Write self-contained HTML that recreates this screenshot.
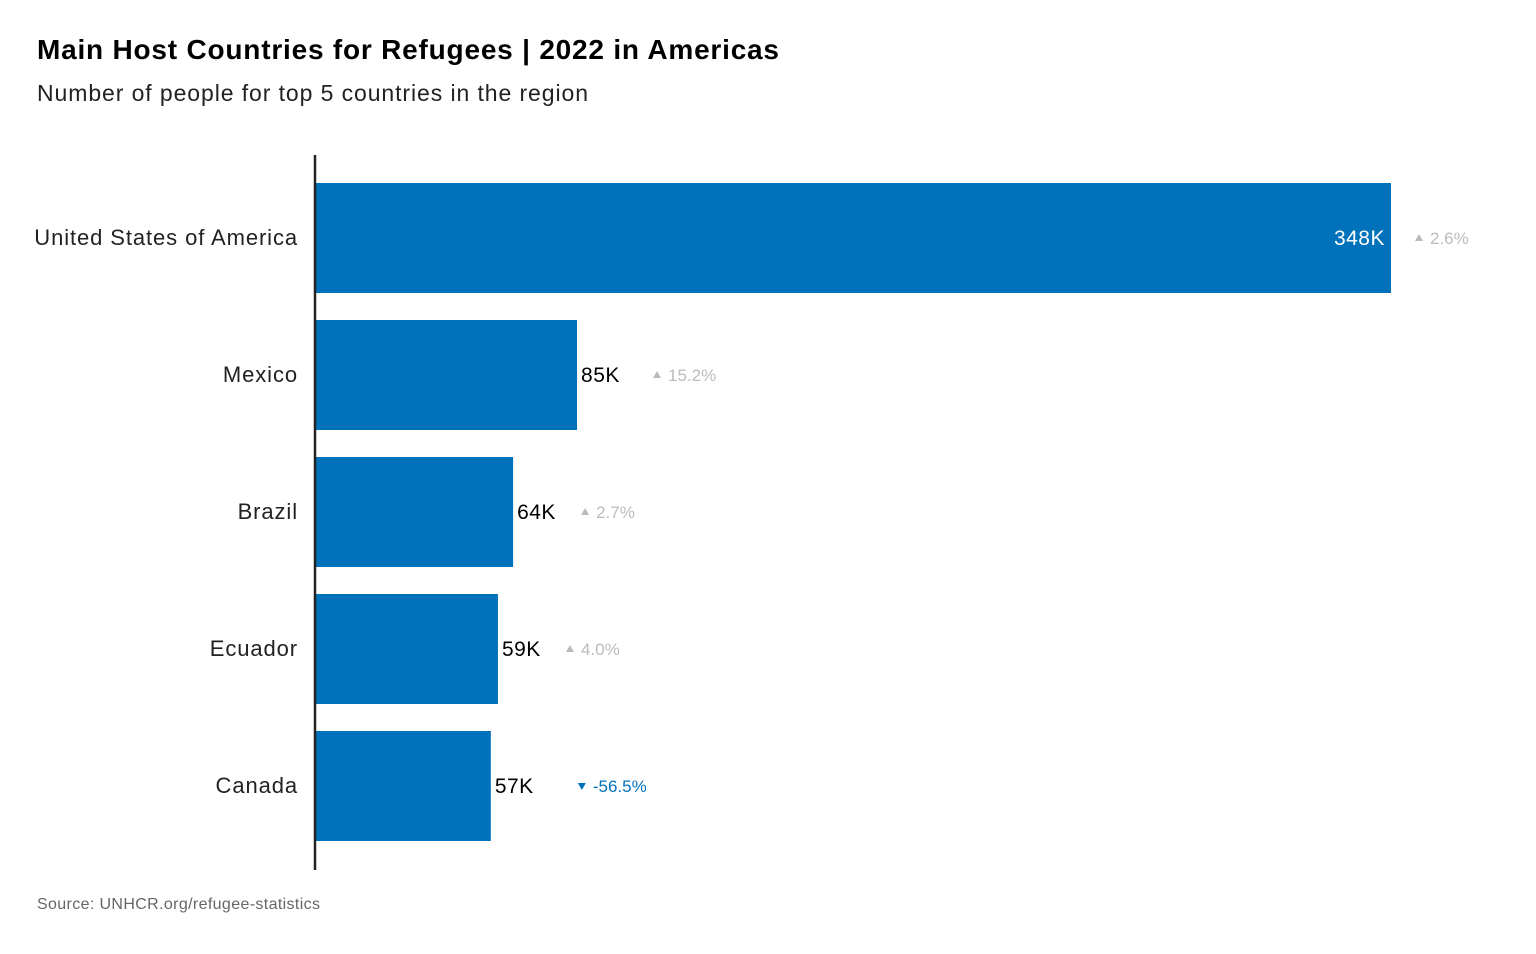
<!DOCTYPE html>
<html><head><meta charset="utf-8"><style>
body{margin:0;background:#fff;width:1536px;height:949px;overflow:hidden;font-family:"Liberation Sans",sans-serif}
svg text{font-family:"Liberation Sans",sans-serif}
</style></head><body>
<svg id="chart" width="1536" height="949" xmlns="http://www.w3.org/2000/svg">
<text x="37" y="59" font-size="28" font-weight="bold" fill="#000" textLength="742">Main Host Countries for Refugees | 2022 in Americas</text>
<text x="37" y="101" font-size="23" fill="#222" textLength="551">Number of people for top 5 countries in the region</text>
<text x="37" y="909" font-size="16" fill="#666" textLength="283">Source: UNHCR.org/refugee-statistics</text>
<g id="bars"></g>
<line x1="315" y1="155" x2="315" y2="870" stroke="#222" stroke-width="2.5"/>
</svg>
<script>
const countries=["United States of America","Mexico","Brazil","Ecuador","Canada"];
const values=[348,84.5,63.8,58.9,56.6];
const valueLabels=["348K","85K","64K","59K","57K"];
const changes=[2.6,15.2,2.7,4.0,-56.5];
const changeLabels=["2.6%","15.2%","2.7%","4.0%","-56.5%"];
const NS="http://www.w3.org/2000/svg";
const x0=316,maxV=348,maxW=1075;
const xs=v=>x0+v/maxV*maxW;
const yTop=i=>183+i*137;
const bh=110;
const g=document.getElementById('bars');
function mk(t,a){const e=document.createElementNS(NS,t);for(const k in a)e.setAttribute(k,a[k]);g.appendChild(e);return e;}
countries.forEach((c,i)=>{
  const xe=xs(values[i]),y=yTop(i),cy=y+bh/2;
  const r=mk('rect',{x:x0,y:y,width:xe-x0,height:bh,fill:'#0072bc'});
  
  
  const l=mk('text',{x:298,y:cy+7,'font-size':22,'text-anchor':'end',fill:'#222','letter-spacing':0.9});l.textContent=c;
  
  
  const inside=values[i]/maxV>0.5;
  const v=mk('text',{x:inside?xe-6:xe+4,y:cy+7,'font-size':21,'text-anchor':inside?'end':'start',fill:inside?'#fff':'#000','letter-spacing':0.5});v.textContent=valueLabels[i];
  
  
  const vw=valueLabels[i].length*12;
  const n=changeLabels[i].length;
  const cx=inside?xe+28:xe+4+vw+(n>5?51:n>4?40:32);
  const neg=changes[i]<0;
  const col=neg?'#0072bc':'#bbb';
  const tri=mk('path',{d:neg?`M${cx-4} ${cy-3}L${cx+4} ${cy-3}L${cx} ${cy+4}Z`:`M${cx-4} ${cy+3}L${cx+4} ${cy+3}L${cx} ${cy-4}Z`,fill:col});
  
  
  const ct=mk('text',{x:cx+11,y:cy+6,'font-size':17,fill:col});ct.textContent=changeLabels[i];
  
  
});
</script>
</body></html>
